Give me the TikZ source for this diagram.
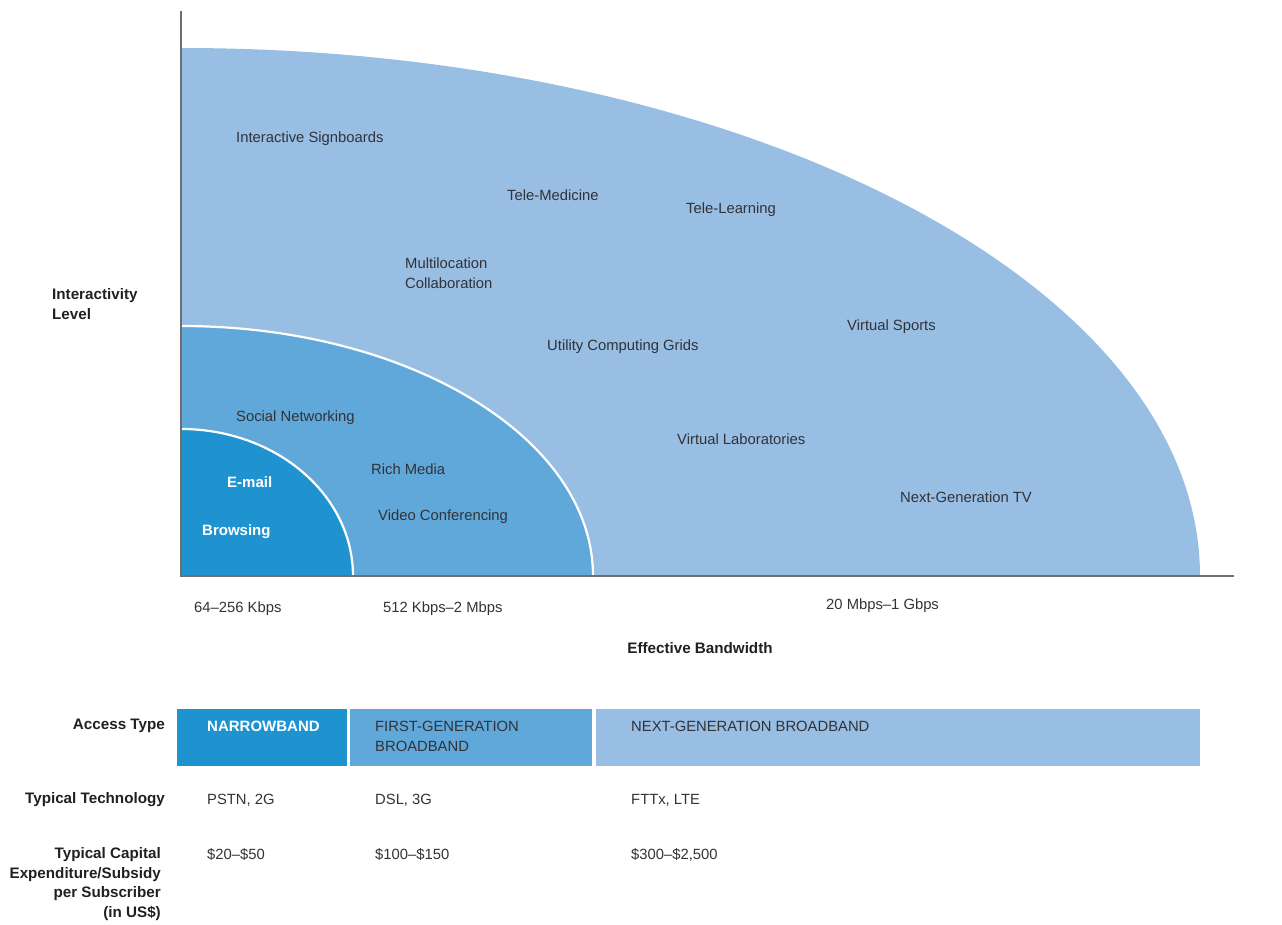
\documentclass[tikz,border=0pt]{standalone}
\usepackage{fontspec}
\setmainfont{Liberation Sans}
\usepackage{xcolor}
\definecolor{bwlight}{RGB}{152,190,228}
\definecolor{bwmid}{RGB}{96,168,218}
\definecolor{bwdark}{RGB}{30,147,208}
\definecolor{axisgray}{RGB}{110,110,110}
\definecolor{txtgray}{RGB}{50,50,55}
\definecolor{txtdark}{RGB}{35,31,32}

\begin{document}
\begin{tikzpicture}[
        x=1pt, y=-1pt,
        % Styles des textes
        lbl/.style={anchor=west, align=left, inner sep=0pt, text=txtgray,
                    font=\fontsize{14.8}{20}\selectfont},
        hdr/.style={inner sep=0pt, text=txtdark,
                    font=\fontsize{15.2}{19.5}\selectfont\bfseries},
        wlbl/.style={anchor=west, inner sep=0pt, text=white,
                     font=\fontsize{15}{19}\selectfont\bfseries},
        % Styles des traits
        axisline/.style={draw=axisgray, line width=1.6pt},
        ring/.style={draw=white, line width=2.2pt},
    ]
        \useasboundingbox (0,0) rectangle (1282,925);

        %% ── Zones (quarts d'ellipse) ──
        \fill[bwlight] (181,576) -- (181,48)
            arc[start angle=-90, end angle=0, x radius=1019, y radius=528] -- cycle;
        \fill[bwmid] (181,576) -- (181,326)
            arc[start angle=-90, end angle=0, x radius=412, y radius=250] -- cycle;
        \draw[ring] (181,326)
            arc[start angle=-90, end angle=0, x radius=412, y radius=250];
        \fill[bwdark] (181,576) -- (181,429)
            arc[start angle=-90, end angle=0, x radius=172, y radius=147] -- cycle;
        \draw[ring] (181,429)
            arc[start angle=-90, end angle=0, x radius=172, y radius=147];

        %% ── Axes ──
        \draw[axisline] (181,11) -- (181,576) -- (1234,576);

        %% ── Applications ──
        \node[lbl] (sign)   at (236,139) {Interactive Signboards};
        \node[lbl] (tmed)   at (507,195) {Tele-Medicine};
        \node[lbl] (tlearn) at (686,210) {Tele-Learning};
        \node[lbl] (multi)  at (405,273) {Multilocation\\Collaboration};
        \node[lbl] (vsport) at (847,327) {Virtual Sports};
        \node[lbl] (grids)  at (547,347) {Utility Computing Grids};
        \node[lbl] (social) at (236,418) {Social Networking};
        \node[lbl] (vlab)   at (677,439) {Virtual Laboratories};
        \node[lbl] (rich)   at (371,469) {Rich Media};
        \node[lbl] (ngtv)   at (900,497) {Next-Generation TV};
        \node[lbl] (video)  at (378,517) {Video Conferencing};
        \node[wlbl] (email) at (227,482) {E-mail};
        \node[wlbl] (brows) at (202,532) {Browsing};

        %% ── Titres des axes ──
        \node[hdr, anchor=west, align=left] (ylab) at (52,304) {Interactivity\\Level};
        \node[hdr] (xlab) at (700,648) {Effective Bandwidth};

        \node[lbl] (bw1) at (194,609) {64–256 Kbps};
        \node[lbl] (bw2) at (383,609) {512 Kbps–2 Mbps};
        \node[lbl] (bw3) at (826,606) {20 Mbps–1 Gbps};

        %% ── Bandeau des types d'accès ──
        \fill[bwdark]  (177,709) rectangle (347,766);
        \fill[bwmid]   (350,709) rectangle (592,766);
        \fill[bwlight] (596,709) rectangle (1200,766);

        \node[hdr, anchor=east, align=right] (acc)  at (165,726) {Access Type};
        \node[wlbl] (narrow) at (207,726) {NARROWBAND};
        \node[lbl]  (first)  at (375,736) {FIRST-GENERATION\\BROADBAND};
        \node[lbl]  (next)   at (631,726) {NEXT-GENERATION BROADBAND};

        %% ── Technologies et coûts ──
        \node[hdr, anchor=east, align=right] (tech) at (165,800) {Typical Technology};
        \node[lbl] (tech1) at (207,800) {PSTN, 2G};
        \node[lbl] (tech2) at (375,800) {DSL, 3G};
        \node[lbl] (tech3) at (631,800) {FTTx, LTE};

        \node[hdr, anchor=east, align=right] (capex) at (161,884)
            {Typical Capital\\Expenditure/Subsidy\\per Subscriber\\(in US\$)};
        \node[lbl] (cost1) at (207,855) {\$20–\$50};
        \node[lbl] (cost2) at (375,855) {\$100–\$150};
        \node[lbl] (cost3) at (631,855) {\$300–\$2,500};

    \end{tikzpicture}
\end{document}
